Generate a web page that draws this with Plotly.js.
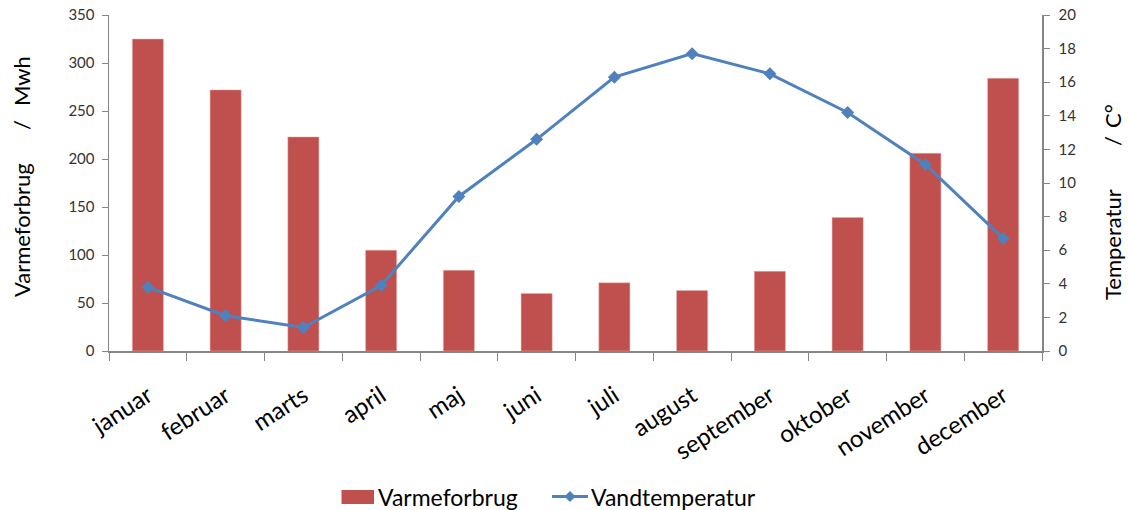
<!DOCTYPE html>
<html>
<head>
<meta charset="utf-8">
<script src="https://cdn.plot.ly/plotly-3.0.1.min.js"></script>
<style>html,body{margin:0;padding:0;background:#fff;}#chart{width:1128px;height:510px;}</style>
</head>
<body>
<div id="chart"></div>
<script>
const months = ["januar","februar","marts","april","maj","juni","juli","august","september","oktober","november","december"];
const varmeforbrug = [325, 272, 223, 105, 84, 60, 71, 63, 83, 139, 206, 284];
const vandtemperatur = [3.8, 2.1, 1.4, 3.9, 9.2, 12.6, 16.3, 17.7, 16.5, 14.2, 11.1, 6.7];
const seriesNames = ["Varmeforbrug", "Vandtemperatur"];
const leftTitleParts = ["Varmeforbrug", "/", "Mwh"];
const rightTitleParts = ["Temperatur", "/", "C°"];

const fontFam = "Lato, 'Open Sans', sans-serif";
const axisColor = "#868686";
const barColor = "#C0504D";
const lineColor = "#4F81BD";

const data = [
  {
    type: "bar", name: seriesNames[0], x: months, y: varmeforbrug,
    marker: {color: barColor, line: {color: "#E6B0AE", width: 0.5}},
    yaxis: "y", showlegend: false
  },
  {
    type: "scatter", mode: "lines+markers", name: seriesNames[1], x: months, y: vandtemperatur,
    line: {color: lineColor, width: 3},
    marker: {symbol: "diamond", size: 10, color: lineColor},
    yaxis: "y2", showlegend: false
  }
];

// helpers: pixel -> paper coordinates (plot area 109..1042 x 15..351 px)
const L = 109, W = 933, B = 351, H = 336;
const px = v => (v - L) / W;
const py = v => (B - v) / H;
const dcx = px(570), dcy = py(496.5), dw = 5.5 / W, dh = 5.5 / H;

function vtitle(text, xPix, yPix) {
  return {xref: "paper", yref: "paper", x: px(xPix), y: py(yPix), xanchor: "center", yanchor: "middle",
          text: text, textangle: -90, showarrow: false, borderpad: 0,
          font: {size: 22, family: fontFam, color: "#000"}};
}

const layout = {
  width: 1128, height: 510,
  margin: {l: 109, r: 86, t: 15, b: 159, autoexpand: false},
  paper_bgcolor: "#fff", plot_bgcolor: "#fff",
  font: {family: fontFam, color: "#000"},
  bargap: 0.6,
  showlegend: false,
  xaxis: {
    type: "category", range: [-0.5, 11.5], showline: true, linecolor: axisColor, linewidth: 1.5,
    ticks: "outside", tickson: "boundaries", ticklen: 8, tickcolor: axisColor,
    tickangle: -33, tickfont: {size: 24, family: fontFam}, showgrid: false, zeroline: false,
    automargin: false, ticklabelstandoff: 20
  },
  yaxis: {
    range: [0, 350], dtick: 50, showline: true, linecolor: axisColor, linewidth: 1.5,
    ticks: "outside", ticklen: 6, tickcolor: axisColor, showgrid: false, zeroline: false,
    tickfont: {size: 15, family: fontFam, color: "#333"}, automargin: false, ticklabelstandoff: 4
  },
  yaxis2: {
    range: [0, 20], dtick: 2, overlaying: "y", side: "right",
    showline: true, linecolor: axisColor, linewidth: 1.5,
    ticks: "outside", ticklen: 6, tickcolor: axisColor, showgrid: false, zeroline: false,
    tickfont: {size: 15, family: fontFam, color: "#333"}, automargin: false, ticklabelstandoff: 6
  },
  shapes: [
    {type: "rect", xref: "paper", yref: "paper", x0: px(341.5), x1: px(374), y0: py(504), y1: py(490),
     fillcolor: barColor, line: {width: 0}},
    {type: "line", xref: "paper", yref: "paper", x0: px(552), x1: px(588), y0: dcy, y1: dcy,
     line: {color: lineColor, width: 3}},
    {type: "path", xref: "paper", yref: "paper",
     path: `M ${dcx} ${dcy + dh} L ${dcx + dw} ${dcy} L ${dcx} ${dcy - dh} L ${dcx - dw} ${dcy} Z`,
     fillcolor: lineColor, line: {width: 0}}
  ],
  annotations: [
    {xref: "paper", yref: "paper", x: px(376), y: py(496.5), xanchor: "left", yanchor: "middle",
     text: seriesNames[0], showarrow: false, font: {size: 23, family: fontFam, color: "#000"}},
    {xref: "paper", yref: "paper", x: px(589), y: py(496.5), xanchor: "left", yanchor: "middle",
     text: seriesNames[1], showarrow: false, font: {size: 23, family: fontFam, color: "#000"}},
    vtitle(leftTitleParts[0], 22, 230),
    vtitle(leftTitleParts[1], 22, 125),
    vtitle(leftTitleParts[2], 22, 81),
    vtitle(rightTitleParts[0], 1112, 245),
    vtitle(rightTitleParts[1], 1112, 141),
    vtitle(rightTitleParts[2], 1112, 116)
  ]
};

Plotly.newPlot("chart", data, layout, {displayModeBar: false, staticPlot: true});
</script>
</body>
</html>
